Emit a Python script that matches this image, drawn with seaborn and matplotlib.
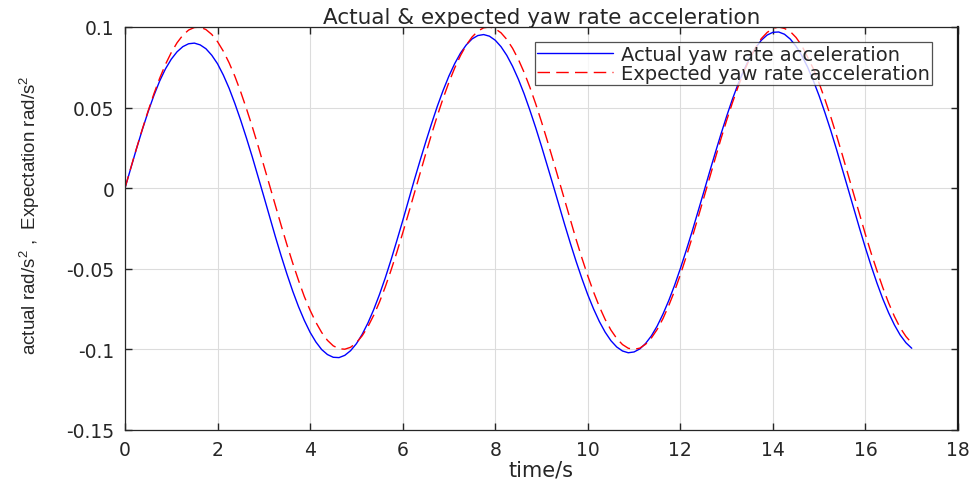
import matplotlib
matplotlib.use("Agg")
import matplotlib.pyplot as plt
import seaborn as sns
import pandas as pd

# time axis, sampled every 0.125 s (0 .. 17 s)
time_s = [i * 0.125 for i in range(137)]

# expected yaw rate acceleration (red dashed), one row per second
expected = [
    0.0, 0.0125, 0.0247, 0.0366, 0.0479, 0.0585, 0.0682, 0.0768,
    0.0841, 0.0902, 0.0949, 0.0981, 0.0997, 0.0999, 0.0984, 0.0954,
    0.0909, 0.0850, 0.0778, 0.0694, 0.0598, 0.0493, 0.0382, 0.0264,
    0.0141, 0.0017, -0.0108, -0.0231, -0.0351, -0.0465, -0.0572, -0.0672,
    -0.0757, -0.0832, -0.0895, -0.0944, -0.0978, -0.0996, -0.0999, -0.0987,
    -0.0959, -0.0916, -0.0859, -0.0788, -0.0706, -0.0612, -0.0508, -0.0397,
    -0.0279, -0.0158, -0.0033, 0.0092, 0.0215, 0.0335, 0.0450, 0.0558,
    0.0657, 0.0746, 0.0823, 0.0888, 0.0938, 0.0974, 0.0995, 0.1000,
    0.0989, 0.0964, 0.0923, 0.0868, 0.0799, 0.0718, 0.0625, 0.0523,
    0.0412, 0.0295, 0.0174, 0.0050, -0.0075, -0.0199, -0.0320, -0.0435,
    -0.0544, -0.0644, -0.0735, -0.0814, -0.0880, -0.0932, -0.0970, -0.0993,
    -0.1000, -0.0992, -0.0968, -0.0929, -0.0876, -0.0809, -0.0728, -0.0638,
    -0.0537, -0.0427, -0.0311, -0.0190, -0.0066, 0.0059, 0.0183, 0.0304,
    0.0420, 0.0530, 0.0631, 0.0723, 0.0804, 0.0871, 0.0928, 0.0966,
    0.0991, 0.1000, 0.0991, 0.0972, 0.0935, 0.0884, 0.0813, 0.0740,
    0.0650, 0.0550, 0.0443, 0.0327, 0.0207, 0.0083, -0.0042, -0.0166,
    -0.0288, -0.0405, -0.0513, -0.0617, -0.0712, -0.0795, -0.0866, -0.0920,
    -0.0961,
]

# actual yaw rate acceleration (blue solid), one row per second
actual = [
    0.0, 0.0124, 0.0246, 0.0363, 0.0474, 0.0575, 0.0665, 0.0740,
    0.0800, 0.0846, 0.0878, 0.0896, 0.0900, 0.0889, 0.0865, 0.0825,
    0.0772, 0.0702, 0.0620, 0.0525, 0.0422, 0.0311, 0.0195, 0.0072,
    -0.0051, -0.0177, -0.0301, -0.0420, -0.0533, -0.0639, -0.0735, -0.0820,
    -0.0894, -0.0954, -0.1001, -0.1032, -0.1049, -0.1051, -0.1037, -0.1008,
    -0.0965, -0.0907, -0.0836, -0.0753, -0.0659, -0.0556, -0.0444, -0.0325,
    -0.0203, -0.0076, 0.0049, 0.0170, 0.0288, 0.0401, 0.0509, 0.0607,
    0.0696, 0.0773, 0.0838, 0.0889, 0.0926, 0.0947, 0.0953, 0.0943,
    0.0918, 0.0878, 0.0824, 0.0756, 0.0676, 0.0585, 0.0483, 0.0375,
    0.0260, 0.0141, 0.0020, -0.0103, -0.0225, -0.0343, -0.0456, -0.0562,
    -0.0661, -0.0749, -0.0827, -0.0893, -0.0946, -0.0985, -0.1010, -0.1021,
    -0.1016, -0.0997, -0.0963, -0.0916, -0.0855, -0.0781, -0.0697, -0.0603,
    -0.0499, -0.0388, -0.0273, -0.0152, -0.0030, 0.0094, 0.0215, 0.0333,
    0.0446, 0.0552, 0.0648, 0.0734, 0.0809, 0.0870, 0.0918, 0.0950,
    0.0967, 0.0969, 0.0955, 0.0925, 0.0881, 0.0822, 0.0751, 0.0666,
    0.0572, 0.0468, 0.0358, 0.0240, 0.0118, -0.0005, -0.0129, -0.0252,
    -0.0371, -0.0484, -0.0590, -0.0687, -0.0773, -0.0848, -0.0911, -0.0959,
    -0.0993,
]

x_ticks = [0, 2, 4, 6, 8, 10, 12, 14, 16, 18]
y_ticks = [-0.15, -0.1, -0.05, 0, 0.05, 0.1]
y_tick_labels = ["-0.15", "-0.1", "-0.05", "0", "0.05", "0.1"]

label_actual = "Actual yaw rate acceleration"
label_expected = "Expected yaw rate acceleration"

df = pd.concat([
    pd.DataFrame({"time": time_s, "value": actual, "Series": label_actual}),
    pd.DataFrame({"time": time_s, "value": expected, "Series": label_expected}),
], ignore_index=True)

sns.set_theme(style="ticks")
plt.rcParams["font.family"] = ["DejaVu Sans"]
plt.rcParams["mathtext.default"] = "regular"

fig = plt.figure(figsize=(9.74, 4.81), dpi=100)
ax = fig.add_axes([0.1283, 0.104, 0.8553, 0.8378])

sns.lineplot(data=df, x="time", y="value", hue="Series", style="Series",
             palette={label_actual: "#0000ff", label_expected: "#ff0000"},
             dashes={label_actual: "", label_expected: (9, 4.5)},
             linewidth=1.0, ax=ax, sort=False, estimator=None)

ax.set_xlim(0, 18)
ax.set_ylim(-0.15, 0.1)
ax.set_xticks(x_ticks)
ax.set_xticklabels([str(v) for v in x_ticks])
ax.set_yticks(y_ticks)
ax.set_yticklabels(y_tick_labels)
ax.grid(True, color="#dcdcdc", linewidth=0.8)
ax.tick_params(direction="in", length=5, width=1.0, labelsize=13.5,
               top=True, right=True, colors="#262626", pad=7.5)
for side in ["left", "bottom", "top"]:
    ax.spines[side].set_visible(True)
    ax.spines[side].set_color("#262626")
    ax.spines[side].set_linewidth(0.9)
ax.spines["right"].set_visible(True)
ax.spines["right"].set_color("#1a1a1a")
ax.spines["right"].set_linewidth(1.6)

ax.set_title("Actual & expected yaw rate acceleration", fontsize=15.5, pad=3)
ax.set_xlabel("time/s", fontsize=15, labelpad=0)
ax.set_ylabel("actual rad/s$^2$ ,  Expectation rad/s$^2$", fontsize=13.5,
              family=["Liberation Sans", "DejaVu Sans"])
ax.yaxis.set_label_coords(-0.0996, 0.536)

leg = ax.legend(loc="upper right", bbox_to_anchor=(0.9685, 0.962),
                fontsize=14, frameon=True, fancybox=False,
                handlelength=3.9, handletextpad=0.4, borderpad=0.12,
                labelspacing=0.0, borderaxespad=0)
leg.get_frame().set_edgecolor("#262626")
leg.get_frame().set_linewidth(0.9)
leg.set_title(None)

fig.savefig("out.png", dpi=100)
